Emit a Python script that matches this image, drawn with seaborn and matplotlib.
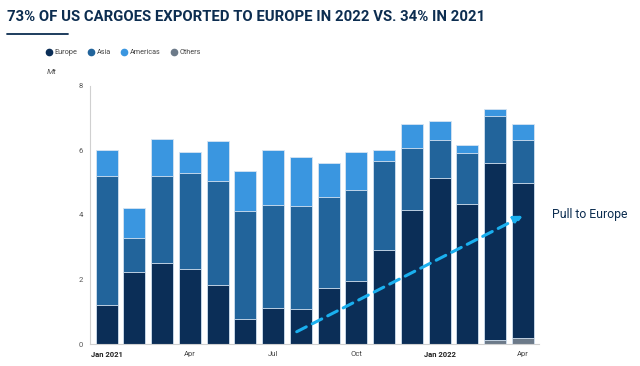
import numpy as np
import pandas as pd
import matplotlib
matplotlib.use("Agg")
import matplotlib.pyplot as plt
import seaborn as sns
from matplotlib.lines import Line2D

# monthly US LNG cargo exports by destination, Mt
months = ["Jan 2021", "Feb", "Mar", "Apr", "May", "Jun", "Jul", "Aug", "Sep",
          "Oct", "Nov", "Dec", "Jan 2022", "Feb 22", "Mar 22", "Apr 22"]
tick_labels = ["Jan 2021", "", "", "Apr", "", "", "Jul", "", "",
               "Oct", "", "", "Jan 2022", "", "", "Apr"]
europe = [1.22, 2.23, 2.52, 2.32, 1.84, 0.77, 1.13, 1.07, 1.72,
          1.96, 2.92, 4.16, 5.13, 4.34, 5.51, 4.80]
asia = [3.98, 1.06, 2.68, 2.97, 3.20, 3.36, 3.17, 3.20, 2.84,
        2.81, 2.75, 1.91, 1.19, 1.56, 1.43, 1.32]
americas = [0.80, 0.93, 1.15, 0.65, 1.26, 1.22, 1.70, 1.51, 1.05,
            1.17, 0.35, 0.74, 0.60, 0.26, 0.24, 0.49]
others = [0, 0, 0, 0, 0, 0, 0, 0, 0, 0, 0, 0, 0, 0, 0.11, 0.19]

arrow_from = ("Aug", 0.38)
arrow_to = ("Apr 22", 3.97)

colors = {"Europe": "#0b2e57", "Asia": "#22649b",
          "Americas": "#3a96e0", "Others": "#6c7a89"}
navy = "#0c2d50"

df = pd.DataFrame({"month": months, "Europe": europe, "Asia": asia,
                   "Americas": americas, "Others": others})
# cumulative tops, drawn back to front
df["top_others"] = df["Others"]
df["top_europe"] = df["top_others"] + df["Europe"]
df["top_asia"] = df["top_europe"] + df["Asia"]
df["top_americas"] = df["top_asia"] + df["Americas"]

sns.set_style("white")
plt.rcParams["font.family"] = ["Roboto", "DejaVu Sans"]

fig = plt.figure(figsize=(6.4, 3.66), dpi=100)
ax = fig.add_axes([0.1406, 0.0601, 0.7016, 0.7059])

for col, name in [("top_americas", "Americas"), ("top_asia", "Asia"),
                  ("top_europe", "Europe"), ("top_others", "Others")]:
    sns.barplot(data=df, x="month", y=col, order=months, color=colors[name],
                saturation=1, width=0.79, edgecolor="#d6e4f2", linewidth=0.6,
                ax=ax)

ax.set_xlim(-0.6, 15.58)
ax.set_ylim(0, 8)
ax.set_yticks([0, 2, 4, 6, 8])
ax.set_yticklabels(["0", "2", "4", "6", "8"], fontsize=5.5, color="#555555")
ax.set_xticks(range(len(months)))
ax.set_xticklabels(tick_labels, fontsize=5.5, color="#444444")
for lbl in ax.get_xticklabels():
    if "20" in lbl.get_text():
        lbl.set_fontweight("bold")
        lbl.set_color("#222222")
ax.set_xticks(np.arange(0.5, 15.5, 1), minor=True)
ax.tick_params(axis="x", which="major", length=0, pad=5)
ax.tick_params(axis="x", which="minor", length=3, color="#cccccc", width=0.8)
ax.tick_params(axis="y", length=3, color="#cccccc", width=0.8, pad=2)
ax.set_xlabel("")
ax.set_ylabel("")
for s in ["top", "right"]:
    ax.spines[s].set_visible(False)
for s in ["left", "bottom"]:
    ax.spines[s].set_color("#d0d0d0")
    ax.spines[s].set_linewidth(0.8)

# trend arrow
x0 = months.index(arrow_from[0]) - 0.15
x1 = months.index(arrow_to[0])
ax.annotate("", xy=(x1, arrow_to[1]), xytext=(x0, arrow_from[1]),
            arrowprops=dict(arrowstyle="-|>,head_length=0.5,head_width=0.25",
                            color="#1ab0ef", lw=2.2, linestyle=(0, (3.5, 2.2)),
                            shrinkA=0, shrinkB=0))
fig.text(0.862, 0.415, "Pull to Europe", fontsize=8.8, color=navy,
         family=["Roboto", "DejaVu Sans"], va="center")

# title and underline
fig.text(0.011, 0.953, "73% OF US CARGOES EXPORTED TO EUROPE IN 2022 VS. 34% IN 2021",
         fontsize=10.7, fontweight="bold", color=navy,
         family=["Roboto", "DejaVu Sans"], va="center")
fig.add_artist(Line2D([0.011, 0.107], [0.907, 0.907], color=navy, lw=1.3))

# legend
handles = [Line2D([], [], marker="o", linestyle="", markersize=4.5,
                  markerfacecolor=colors[n], markeredgecolor=colors[n], label=n)
           for n in ["Europe", "Asia", "Americas", "Others"]]
fig.legend(handles=handles, loc="center left", bbox_to_anchor=(0.062, 0.856),
           ncol=4, frameon=False, fontsize=5.2, handletextpad=0.35,
           columnspacing=1.5, handlelength=0.8, labelcolor="#444444")
fig.text(0.073, 0.803, "Mt", fontsize=6, style="italic", color="#555555",
         va="center")

fig.savefig("out.png", dpi=100)
